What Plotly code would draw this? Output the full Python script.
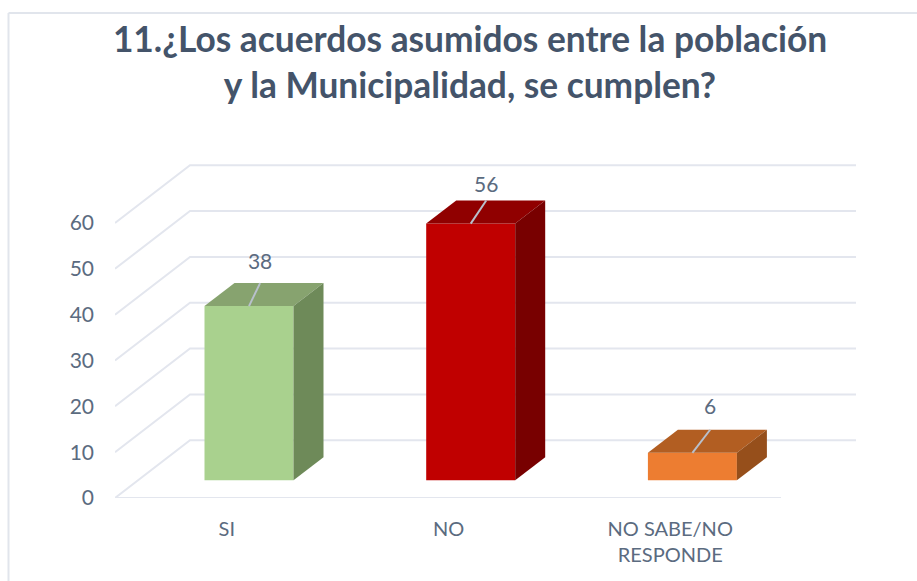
import plotly.graph_objects as go

# Data
categories = ["SI", "NO", "NO SABE/NO<br>RESPONDE"]
values = [38, 56, 6]
y_ticks = [0, 10, 20, 30, 40, 50, 60]
title_text = "11.¿Los acuerdos asumidos entre la población<br>y la Municipalidad, se cumplen?"

# Styles
front_colors = ["#a9d18e", "#c00000", "#ed7d31"]
top_colors = ["#87a36f", "#900000", "#b25e22"]
side_colors = ["#6e8a59", "#780000", "#964f1b"]
label_nudge_x = [0.05, 0.07, 0.08]
label_nudge_y = [4.15, 3.06, 4.6]
TEXT = "#5b6b80"
GRID = "#e3e6ee"

W, H = 917, 581
L, R, T, B = 115, 860, 150, 497.7
PX_X, PX_Y = 221.7, 4.58
X0 = 249
x_lo, x_hi = (L - X0) / PX_X, (R - X0) / PX_X
y_hi = (B - T) / PX_Y

bar_w = 89 / PX_X
lift = 17.7 / PX_Y
bar_dx, bar_dy = 30 / PX_X, 23 / PX_Y
wall_dx, wall_dy = 75 / PX_X, 57.7 / PX_Y
x_start, x_end = x_lo, (781 - X0) / PX_X


def grid_shape(xs, ys):
    path = "M" + " L".join(f"{a},{b}" for a, b in zip(xs, ys))
    return dict(type="path", path=path, xref="x", yref="y", layer="below",
                line=dict(color=GRID, width=2))


shapes = []
for v in y_ticks:
    shapes.append(grid_shape([x_start, x_start + wall_dx, x_end + wall_dx],
                             [v, v + wall_dy, v + wall_dy]))
shapes.append(grid_shape([x_start, x_end], [0, 0]))

# chart frame (top and left edges)
px = lambda p: (p - L) / (R - L)
py = lambda p: (B - p) / (B - T)
for x0, y0, x1, y1 in [(8.5, 13, W, 13), (8.5, 13, 8.5, H)]:
    shapes.append(dict(type="line", xref="paper", yref="paper", layer="below",
                       x0=px(x0), y0=py(y0), x1=px(x1), y1=py(y1),
                       line=dict(color="#e1e5ec", width=2)))

fig = go.Figure()
idx = list(range(len(categories)))

fig.add_trace(go.Bar(x=idx, y=values, base=[lift] * len(values), width=bar_w,
                     marker=dict(color=front_colors, line=dict(width=0)),
                     hoverinfo="x+y", showlegend=False))

for i, v in enumerate(values):
    xl, xr = i - bar_w / 2, i + bar_w / 2
    top = lift + v
    fig.add_trace(go.Scatter(
        x=[xl, xr, xr + bar_dx, xl + bar_dx, xl],
        y=[top, top, top + bar_dy, top + bar_dy, top],
        mode="lines", fill="toself", fillcolor=top_colors[i],
        line=dict(width=0), hoverinfo="skip", showlegend=False))
    fig.add_trace(go.Scatter(
        x=[xr, xr + bar_dx, xr + bar_dx, xr, xr],
        y=[lift, lift + bar_dy, top + bar_dy, top, lift],
        mode="lines", fill="toself", fillcolor=side_colors[i],
        line=dict(width=0), hoverinfo="skip", showlegend=False))
    # leader line and data label
    fig.add_trace(go.Scatter(
        x=[i, i + label_nudge_x[i]], y=[top, top + bar_dy],
        mode="lines", line=dict(color="#b8c0cc", width=2),
        hoverinfo="skip", showlegend=False))
    fig.add_trace(go.Scatter(
        x=[i + label_nudge_x[i]], y=[top + bar_dy + label_nudge_y[i]],
        mode="text", text=[str(v)], textposition="middle center",
        textfont=dict(family="Lato", size=21, color=TEXT),
        hoverinfo="skip", showlegend=False))

fig.update_layout(
    width=W, height=H, autosize=False,
    margin=dict(l=L, r=W - R, t=T, b=H - B, pad=0),
    paper_bgcolor="white", plot_bgcolor="rgba(0,0,0,0)",
    shapes=shapes,
    title=dict(text=title_text, x=470 / W, xanchor="center", xref="container",
               y=1 - 52 / H, yanchor="top",
               font=dict(family="Lato", size=35.3, color="#44546a", weight="bold")),
    xaxis=dict(range=[x_lo, x_hi], tickmode="array",
               tickvals=[i - 0.1 for i in idx], ticktext=categories,
               showgrid=False, zeroline=False, showline=False, ticks="",
               tickangle=0, ticklabelstandoff=17,
               tickfont=dict(family="Lato", size=20, color=TEXT)),
    yaxis=dict(range=[0, y_hi], tickmode="array", tickvals=y_ticks,
               showgrid=False, zeroline=False, showline=False, ticks="",
               ticklabelstandoff=20,
               tickfont=dict(family="Lato", size=21, color=TEXT)),
)

fig.write_html("out.html", config={"displayModeBar": False},
               post_script="document.body.style.margin='0';")
